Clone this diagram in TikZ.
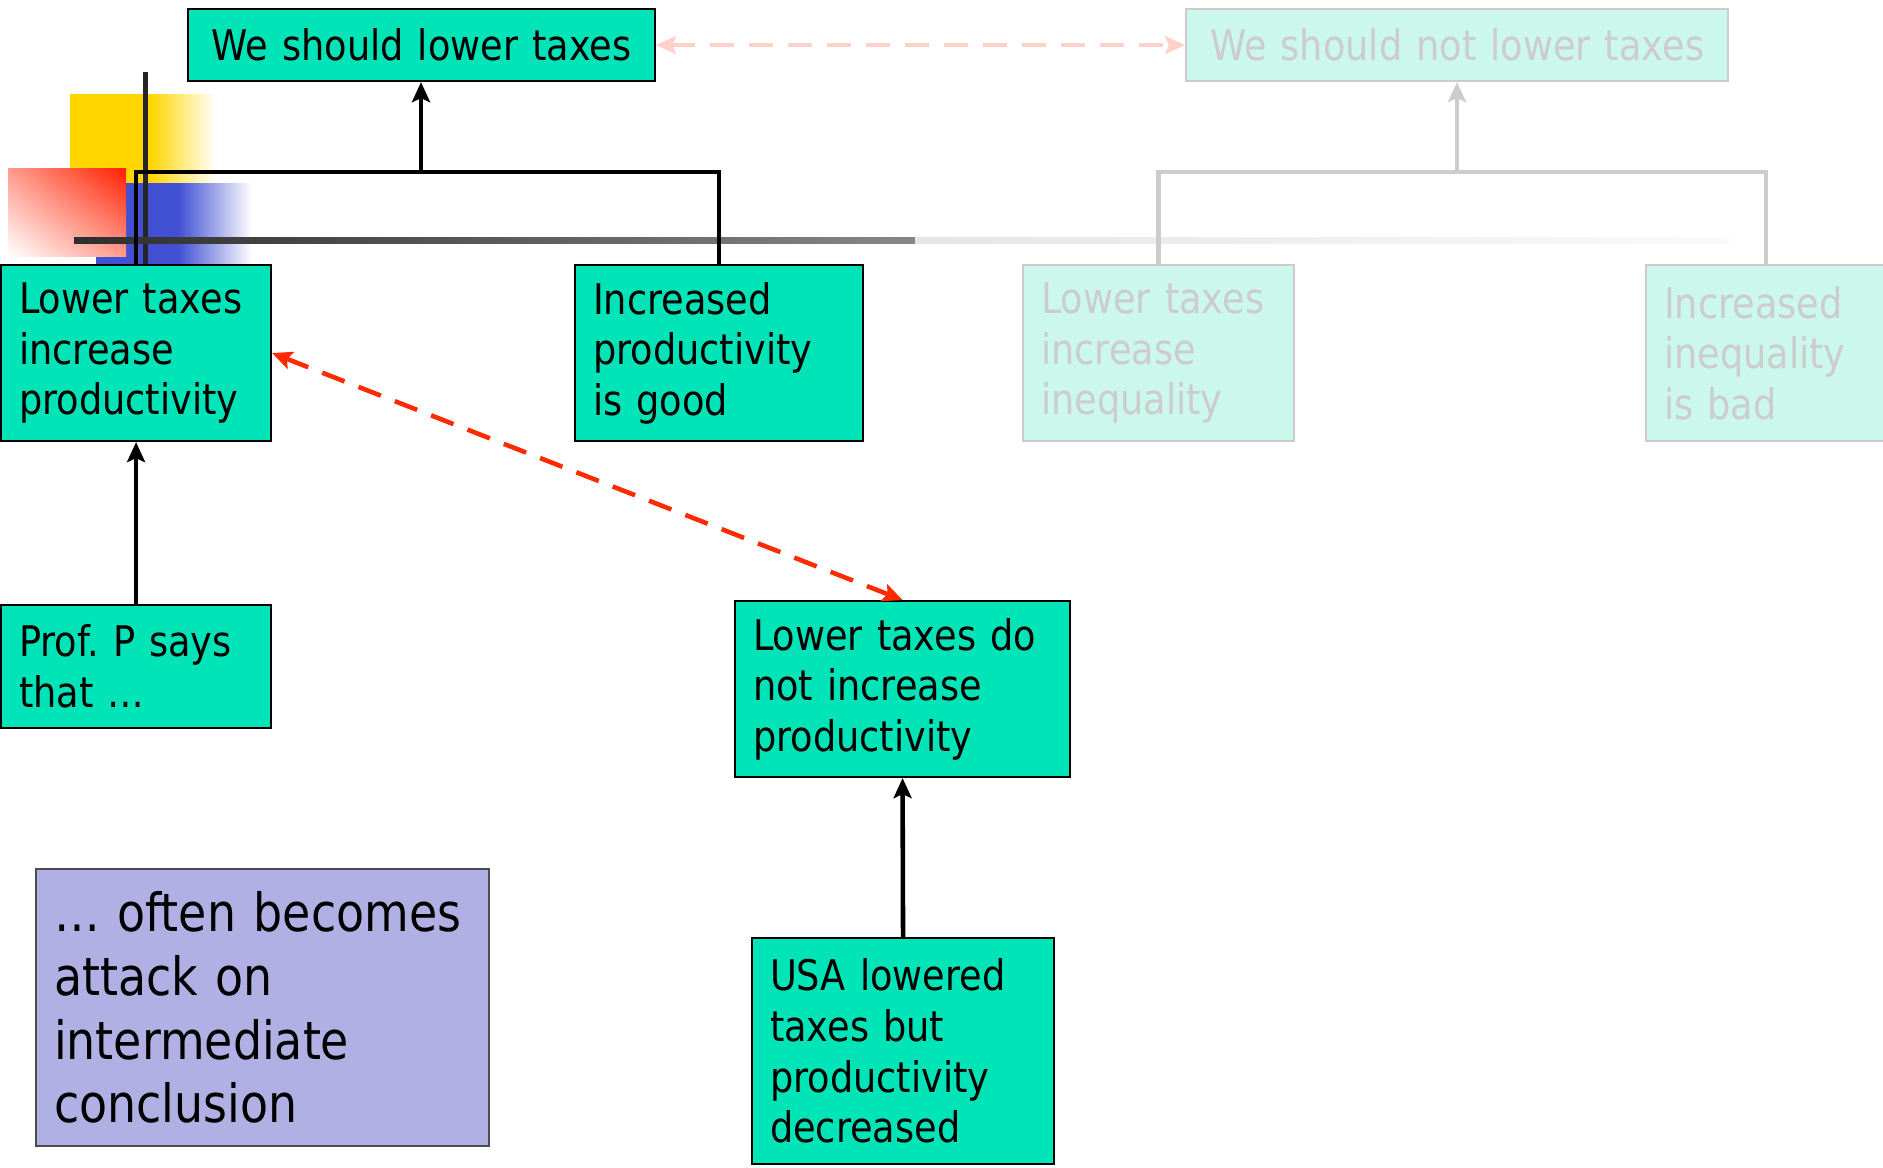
\documentclass[tikz,border=0pt]{standalone}
\usepackage{fontspec}
\setmainfont{DejaVu Sans}[FakeStretch=0.87]
\usepackage{tikz}
\usetikzlibrary{arrows.meta,shadings}
\definecolor{claimgreen}{RGB}{0,228,184}
\definecolor{fadegreen}{RGB}{204,247,236}
\definecolor{fadegray}{RGB}{204,204,204}
\definecolor{notepurple}{RGB}{176,176,228}
\definecolor{attackred}{RGB}{255,42,0}
\definecolor{weakred}{RGB}{255,208,200}
\definecolor{tplyellow}{RGB}{255,214,0}
\definecolor{tplblue}{RGB}{66,80,212}
\definecolor{tplred}{RGB}{255,32,0}
\tikzstyle{claim}=[rectangle,anchor=north west,align=left,draw=black,line width=0.6pt,
fill=claimgreen,inner xsep=1.8mm,inner ysep=0pt,font=\fontsize{12}{14.4}\selectfont]
\tikzstyle{faded}=[claim,draw=fadegray,fill=fadegreen,text=fadegray]
\tikzstyle{note}=[claim,draw=black!70,fill=notepurple,font=\fontsize{15}{18.1}\selectfont]
\tikzstyle{link}=[line width=1.3pt]
\tikzstyle{arrow}=[line width=1.3pt,->,>={Stealth[length=2mm,width=1.8mm,inset=0.4mm]}]
\tikzstyle{fadelink}=[line width=1.3pt,draw=fadegray]
\tikzstyle{fadearrow}=[fadelink,->,>={Stealth[length=2mm,width=1.8mm,inset=0.4mm]}]
\tikzstyle{attack}=[line width=1.3pt,<->,>={Stealth[length=2mm,width=1.8mm,inset=0.4mm]},draw=attackred,dash pattern=on 2.4mm off 1.5mm]
\tikzstyle{weakattack}=[attack,draw=weakred]

\begin{document}
\begin{tikzpicture}[x=0.1mm,y=-0.1mm]
    \useasboundingbox (0,0) rectangle (1883,1167);

    % slide template
    \fill[tplyellow] (70,94) rectangle (150,183);
    \shade[left color=tplyellow,right color=white] (150,94) rectangle (216,183);
    \fill[tplblue] (96,183) rectangle (178,264);
    \shade[left color=tplblue,right color=white] (178,183) rectangle (252,264);
    \shade[upper right=tplred,upper left=tplred!45,lower right=tplred!45,lower left=white] (8,168) rectangle (126,256);
    \draw[line width=0.5mm,black!85] (145,72) -- (145,264);
    \shade[left color=black!82,right color=black!47] (74,237) rectangle (915,243);
    \shade[left color=black!10,right color=black!2] (915,237) rectangle (1729,243);

        \node (top) [claim,text width=43.1mm,minimum height=7.2mm,align=center] at (187,8) {We should lower taxes};
        \node (nottop) [faded,text width=50.6mm,minimum height=7.2mm,align=center] at (1185,8) {We should not lower taxes};
        \node (ltip) [claim,text width=23.4mm,minimum height=17.6mm] at (0,264) {Lower taxes\\increase\\productivity};
        \node (ipg) [claim,text width=25.2mm,minimum height=17.6mm] at (574,264) {Increased\\productivity\\is good};
        \node (ltii) [faded,text width=23.5mm,minimum height=17.6mm] at (1022,264) {Lower taxes\\increase\\inequality};
        \node (iib) [faded,text width=20.4mm,minimum height=17.6mm] at (1645,264) {Increased\\inequality\\is bad};
        \node (prof) [claim,text width=23.4mm,minimum height=12.3mm] at (0,604) {Prof.\ P says\\that …};
        \node (ltdn) [claim,text width=29.9mm,minimum height=17.6mm] at (734,600) {Lower taxes do\\not increase\\productivity};
        \node (usa) [claim,text width=26.6mm,minimum height=22.6mm] at (751,937) {USA lowered\\taxes but\\productivity\\decreased};
        \node (remark) [note,text width=41.7mm,minimum height=27.7mm] at (35,868) {… often becomes\\attack on\\intermediate\\conclusion};

        \coordinate (fork) at (421,172);
        \coordinate (notfork) at (1457,172);

        \draw [link] (ltip.north) |- (fork) -| (ipg.north);
        \draw [arrow] (fork) -- (fork |- top.south);
        \draw [fadelink] (ltii.north) |- (notfork) -| (iib.north);
        \draw [fadearrow] (notfork) -- (notfork |- nottop.south);
        \draw [weakattack] (top.east) -- (nottop.west);
        \draw [attack] (ltip.east) -- (ltdn.north);
        \draw [arrow] (prof.north) -- (ltip.south);
        \draw [arrow] (usa.north) -- (ltdn.south);

    \end{tikzpicture}
\end{document}
